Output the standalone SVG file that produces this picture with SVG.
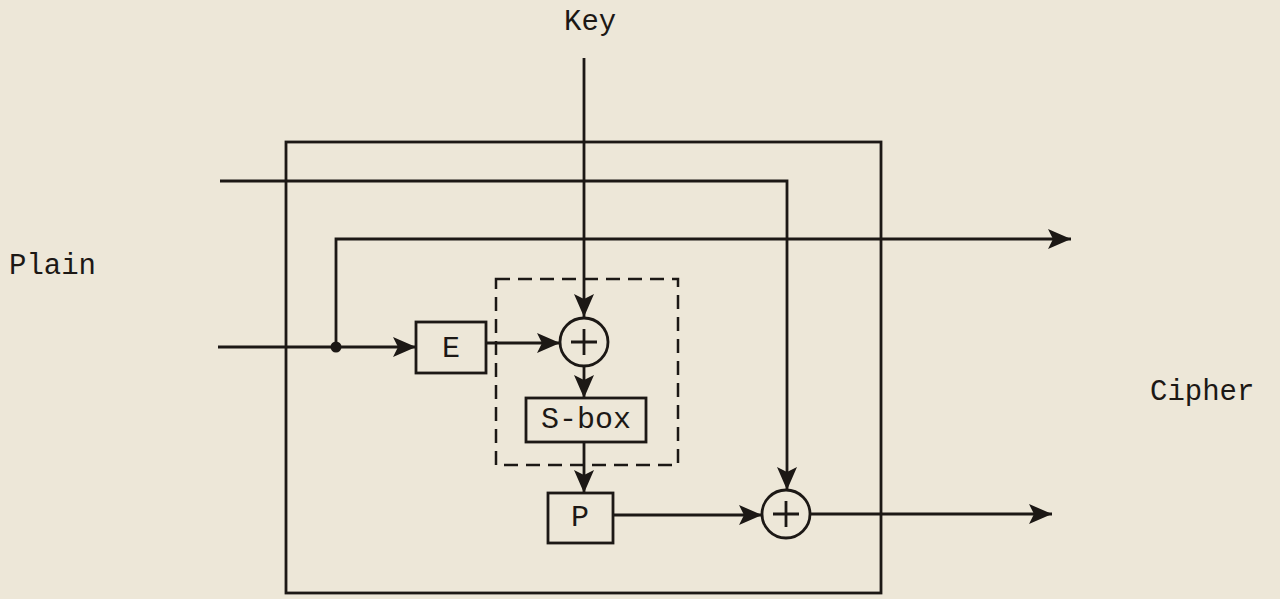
<svg xmlns="http://www.w3.org/2000/svg" width="1280" height="599" viewBox="0 0 1280 599">
<style>
.ln{fill:none;stroke:#1c1815;stroke-width:2.8}
.dash{fill:none;stroke:#1c1815;stroke-width:2.5;stroke-dasharray:14 8}
.bx{fill:none;stroke:#1c1815;stroke-width:2.8}
.t{font-family:"Liberation Mono","DejaVu Sans Mono",monospace;font-size:30px;fill:#1c1815}
.lb{font-family:"Liberation Mono","DejaVu Sans Mono",monospace;font-size:29px;fill:#1c1815}
</style>
<defs>
<marker id="ah" markerUnits="userSpaceOnUse" markerWidth="26" markerHeight="22" refX="23" refY="11" orient="auto">
<polygon points="0,1 23,11 0,21 5,11" fill="#1c1815"/>
</marker>
</defs>
<rect x="0" y="0" width="1280" height="599" fill="#ede7d8"/>
<g id="labels">
<text class="lb" x="564" y="30">Key</text>
<text class="lb" x="9" y="274">Plain</text>
<text class="lb" x="1150" y="400">Cipher</text>
</g>
<g id="outer">
<rect class="bx" x="286" y="142" width="595" height="451"/>
</g>
<g id="dashed">
<rect class="dash" x="496" y="279" width="182" height="186"/>
</g>
<g id="E">
<rect class="bx" x="416" y="322" width="70" height="51"/>
<text class="t" x="451" y="357" text-anchor="middle" font-size="26">E</text>
</g>
<g id="xor1">
<circle class="ln" cx="584" cy="342" r="24"/>
<path class="ln" d="M584 329 V355 M571 342 H597"/>
</g>
<g id="sbox">
<rect class="bx" x="526" y="398" width="120" height="44"/>
<text class="t" x="586" y="428" text-anchor="middle">S-box</text>
</g>
<g id="P">
<rect class="bx" x="548" y="493" width="65" height="50"/>
<text class="t" x="580" y="526" text-anchor="middle" font-size="26">P</text>
</g>
<g id="xor2">
<circle class="ln" cx="786" cy="514" r="24"/>
<path class="ln" d="M786 501 V527 M773 514 H799"/>
</g>
<g id="connectors">
<path class="ln" d="M584 58 V317" marker-end="url(#ah)"/>
<path class="ln" d="M220 181 H787 V490" marker-end="url(#ah)"/>
<path class="ln" d="M336 347 V239 H1071" marker-end="url(#ah)"/>
<path class="ln" d="M218 347 H416" marker-end="url(#ah)"/>
<circle cx="336" cy="347" r="5.5" fill="#1c1815"/>
<path class="ln" d="M486 343 H560" marker-end="url(#ah)"/>
<path class="ln" d="M584 366 V398" marker-end="url(#ah)"/>
<path class="ln" d="M584 442 V493" marker-end="url(#ah)"/>
<path class="ln" d="M613 515 H762" marker-end="url(#ah)"/>
<path class="ln" d="M810 514 H1052" marker-end="url(#ah)"/>
</g>
</svg>
